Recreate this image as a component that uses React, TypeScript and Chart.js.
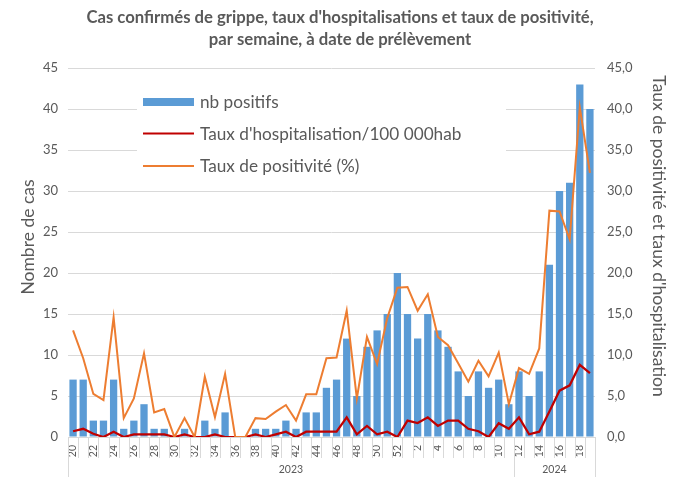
import React, { useEffect, useRef } from "react";
import { Chart, registerables } from "chart.js";

Chart.register(...registerables);

const titleLines = [
  "Cas confirmés de grippe, taux d'hospitalisations et taux de positivité,",
  "par semaine, à date de prélèvement",
];

const weeks = [
  "20", "21", "22", "23", "24", "25", "26", "27", "28", "29",
  "30", "31", "32", "33", "34", "35", "36", "37", "38", "39",
  "40", "41", "42", "43", "44", "45", "46", "47", "48", "49",
  "50", "51", "52",
  "1", "2", "3", "4", "5", "6", "7", "8", "9", "10",
  "11", "12", "13", "14", "15", "16", "17", "18", "19",
];

const cases = [
  7, 7, 2, 2, 7, 1, 2, 4, 1, 1,
  0, 1, 0, 2, 1, 3, 0, 0, 1, 1,
  1, 2, 1, 3, 3, 6, 7, 12, 5, 11,
  13, 15, 20,
  15, 12, 15, 13, 11, 8, 5, 8, 6, 7,
  4, 8, 5, 8, 21, 30, 31, 43, 40,
];

const hospRate = [
  0.7, 1.0, 0.4, 0, 0.65, 0, 0.33, 0.33, 0.33, 0.33,
  0, 0.33, 0, 0, 0.33, 0, 0, 0, 0.33, 0,
  0.33, 0.65, 0, 0.65, 0.65, 0.65, 0.65, 2.4, 0.33, 1.35,
  0.33, 0.65, 0,
  2.0, 1.7, 2.4, 1.35, 2.0, 2.0, 1.0, 0.7, 0, 1.67,
  1.0, 2.4, 0.33, 0.65, 3.1, 5.65, 6.3, 8.8, 7.8,
];

const posRate = [
  13.0, 9.6, 5.25, 4.5, 14.6, 2.3, 4.7, 10.2, 3.0, 3.4,
  0, 2.3, 0, 7.35, 2.4, 7.7, 0, 0, 2.3, 2.2,
  3.1, 3.9, 2.0, 5.2, 5.2, 9.6, 9.7, 15.4, 4.7, 12.2,
  8.9, 14.5, 18.2,
  18.3, 15.4, 17.4, 12.2, 11.2, 9.0, 6.75, 9.3, 7.4, 10.3,
  4.0, 8.4, 7.7, 10.8, 27.6, 27.5, 24.1, 40.2, 32.2,
];

const yearLabels = ["2023", "2024"];
const yearStarts = [0, 44];

const seriesNames = [
  "nb positifs",
  "Taux d'hospitalisation/100 000hab",
  "Taux de positivité (%)",
];
const leftTitle = "Nombre de cas";
const rightTitle = "Taux de positivité et taux d'hospitalisation";

const BLUE = "#5b9bd5";
const RED = "#c00000";
const ORANGE = "#ed7d31";
const TEXT = "#595959";
const GRID = "#d9d9d9";
const FONT = "Lato";

const decorPlugin = {
  id: "decor",
  afterDraw(chart: any) {
    const ctx = chart.ctx as CanvasRenderingContext2D;
    const area = chart.chartArea;
    ctx.save();
    // title
    ctx.fillStyle = TEXT;
    ctx.textAlign = "center";
    ctx.textBaseline = "middle";
    ctx.font = `bold 16.7px ${FONT}`;
    ctx.fillText(titleLines[0], 340, 18);
    ctx.fillText(titleLines[1], 340, 40);

    // axis titles
    ctx.font = `17.5px ${FONT}`;
    ctx.save();
    ctx.translate(28, 237);
    ctx.rotate(-Math.PI / 2);
    ctx.fillText(leftTitle, 0, 0);
    ctx.restore();
    ctx.save();
    ctx.translate(659, 236);
    ctx.rotate(Math.PI / 2);
    ctx.fillText(rightTitle, 0, 0);
    ctx.restore();

    // category separators and year groups
    const n = weeks.length;
    const w = (area.right - area.left) / n;
    ctx.strokeStyle = GRID;
    ctx.lineWidth = 1;
    const groupBounds = [...yearStarts, n];
    for (let i = 0; i <= n; i++) {
      const xx = Math.round(area.left + i * w) + 0.5;
      const isGroup = groupBounds.includes(i);
      ctx.beginPath();
      ctx.moveTo(xx, area.bottom);
      ctx.lineTo(xx, isGroup ? 477 : 458);
      ctx.stroke();
    }
    ctx.fillStyle = TEXT;
    ctx.font = `10.5px ${FONT}`;
    for (let g = 0; g < yearLabels.length; g++) {
      const s = groupBounds[g];
      const e = groupBounds[g + 1];
      const cx = area.left + ((s + e) / 2) * w;
      ctx.fillText(yearLabels[g], cx, 470);
    }

    // legend
    ctx.fillStyle = "#ffffff";
    ctx.fillRect(137, 86, 369, 94);
    ctx.fillStyle = BLUE;
    ctx.fillRect(143, 98, 51, 8);
    ctx.lineWidth = 2;
    ctx.strokeStyle = RED;
    ctx.beginPath();
    ctx.moveTo(143, 133.5);
    ctx.lineTo(194, 133.5);
    ctx.stroke();
    ctx.strokeStyle = ORANGE;
    ctx.beginPath();
    ctx.moveTo(143, 166);
    ctx.lineTo(194, 166);
    ctx.stroke();
    ctx.fillStyle = TEXT;
    ctx.textAlign = "left";
    ctx.font = `17.2px ${FONT}`;
    ctx.fillText(seriesNames[0], 200, 102);
    ctx.fillText(seriesNames[1], 200, 134);
    ctx.fillText(seriesNames[2], 200, 166);
    ctx.restore();
  },
};

export default function App() {
  const ref = useRef<HTMLCanvasElement>(null);
  useEffect(() => {
    document.body.style.margin = "0";
    if (!ref.current) return;
    const chart = new Chart(ref.current, {
      type: "bar",
      data: {
        labels: weeks,
        datasets: [
          {
            type: "line",
            label: seriesNames[2],
            data: posRate,
            borderColor: ORANGE,
            backgroundColor: ORANGE,
            borderWidth: 2,
            pointRadius: 0,
            tension: 0,
            yAxisID: "y1",
            order: 0,
          },
          {
            type: "line",
            label: seriesNames[1],
            data: hospRate,
            borderColor: RED,
            backgroundColor: RED,
            borderWidth: 2.25,
            pointRadius: 0,
            tension: 0,
            yAxisID: "y1",
            order: 1,
          },
          {
            type: "bar",
            label: seriesNames[0],
            data: cases,
            backgroundColor: BLUE,
            categoryPercentage: 1,
            barPercentage: 0.72,
            yAxisID: "y",
            order: 2,
          },
        ] as any,
      },
      options: {
        responsive: false,
        animation: false,
        layout: { padding: { top: 68, left: 0, right: 0, bottom: 0 } },
        plugins: {
          legend: { display: false },
          title: { display: false },
          tooltip: { enabled: false },
        },
        scales: {
          x: {
            offset: true,
            grid: { display: false, drawTicks: false },
            border: { display: false },
            ticks: {
              autoSkip: false,
              maxRotation: 90,
              minRotation: 90,
              padding: 8,
              color: TEXT,
              font: { family: FONT, size: 10.5 },
              callback: (v: any, i: number) => (i % 2 === 0 ? weeks[i] : ""),
            },
            afterFit: (s: any) => {
              s.height = 40;
            },
          },
          y: {
            position: "left",
            min: 0,
            max: 45,
            ticks: {
              stepSize: 5,
              padding: 10,
              color: TEXT,
              font: { family: FONT, size: 13 },
            },
            grid: { color: GRID, lineWidth: 1, drawTicks: false },
            border: { display: false },
            afterFit: (s: any) => {
              s.width = 68;
            },
          },
          y1: {
            position: "right",
            min: 0,
            max: 45,
            ticks: {
              stepSize: 5,
              padding: 12,
              color: TEXT,
              font: { family: FONT, size: 13 },
              callback: (v: any) => Number(v).toFixed(1).replace(".", ","),
            },
            grid: { display: false, drawTicks: false },
            border: { display: false },
            afterFit: (s: any) => {
              s.width = 85;
            },
          },
        },
      },
      plugins: [decorPlugin],
    });
    return () => chart.destroy();
  }, []);
  return (
    <div style={{ width: 680, height: 477 }}>
      <canvas ref={ref} width={680} height={477} />
    </div>
  );
}
